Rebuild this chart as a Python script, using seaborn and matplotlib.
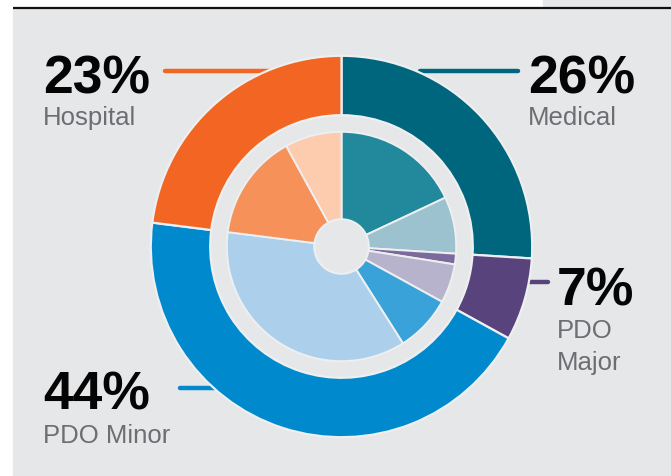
import matplotlib
matplotlib.use("Agg")
import matplotlib.pyplot as plt
from matplotlib.patches import Rectangle
import seaborn as sns

sns.set_theme(style="white")
plt.rcParams["font.family"] = ["Liberation Sans", "DejaVu Sans"]

# Claim categories (outer ring) and their shares in percent
categories = ["Medical", "PDO Major", "PDO Minor", "Hospital"]
shares = [26, 7, 44, 23]
outer_colors = ["#00667e", "#58437c", "#0089cc", "#f26522"]

# Sub-split of each category (inner pie), two parts per category
inner_shares = [18, 8, 1.5, 5.5, 8, 36, 15, 8]
inner_colors = ["#21899b", "#9cc2cf", "#7b6b9d", "#b8b3cc",
                "#39a3d9", "#acd0ec", "#f6915a", "#fdcbad"]

# Text shown beside the ring
pct_labels = ["26%", "7%", "44%", "23%"]
name_labels = ["Medical", "PDO\nMajor", "PDO Minor", "Hospital"]

W, H = 671, 477
BG = "#e6e7e9"
SEP = "#eeeff0"

fig = plt.figure(figsize=(W / 100, H / 100), dpi=100, facecolor="white")
ax = fig.add_axes([0, 0, 1, 1])


def py(y):
    # convert a top-down pixel row to the axes' bottom-up coordinate
    return H - y


# panel background and rule at the top
ax.add_patch(Rectangle((13, py(476)), W - 13, 466, color=BG, zorder=0))
ax.add_patch(Rectangle((543, py(8)), W - 543, 8, color=BG, zorder=0))
ax.plot([13, W], [py(9), py(9)], color="#111111", lw=1.6, zorder=1,
        solid_capstyle="butt")

cx, cy = 341.5, py(247.5)

# leader lines, drawn beneath the ring
leaders = [
    ([420, 518], 72, outer_colors[0]),
    ([500, 548], 283, outer_colors[1]),
    ([180, 300], 389, outer_colors[2]),
    ([165, 300], 72, outer_colors[3]),
]
for xs, y, c in leaders:
    ax.plot(xs, [py(y), py(y)], color=c, lw=3.2, solid_capstyle="round",
            zorder=2)

ax.pie(shares, colors=outer_colors, startangle=90, counterclock=False,
       radius=190.7, center=(cx, cy), frame=True,
       wedgeprops=dict(width=59.4, edgecolor=SEP, linewidth=1.6, zorder=3))
ax.pie(inner_shares, colors=inner_colors, startangle=90, counterclock=False,
       radius=114.7, center=(cx, cy), frame=True,
       wedgeprops=dict(width=87.4, edgecolor=SEP, linewidth=1.4, zorder=3))
ax.set_xlim(0, W)
ax.set_ylim(0, H)
ax.set_aspect("equal")
ax.axis("off")

# percentage and category labels
label_pos = [
    (528, 93, 125),
    (557, 305, 338),
    (43, 410, 443),
    (43, 93, 125),
]
for (x, yb, yn), p, n in zip(label_pos, pct_labels, name_labels):
    ax.text(x, py(yb), p, fontsize=38.5, fontweight="bold", color="#050505",
            va="baseline", ha="left", zorder=5)
    lines = n.split("\n")
    for i, line in enumerate(lines):
        ax.text(x, py(yn + 32 * i), line, fontsize=18.5, color="#6d6e71",
                va="baseline", ha="left", zorder=5)

fig.savefig("out.png", dpi=100, facecolor="white")
